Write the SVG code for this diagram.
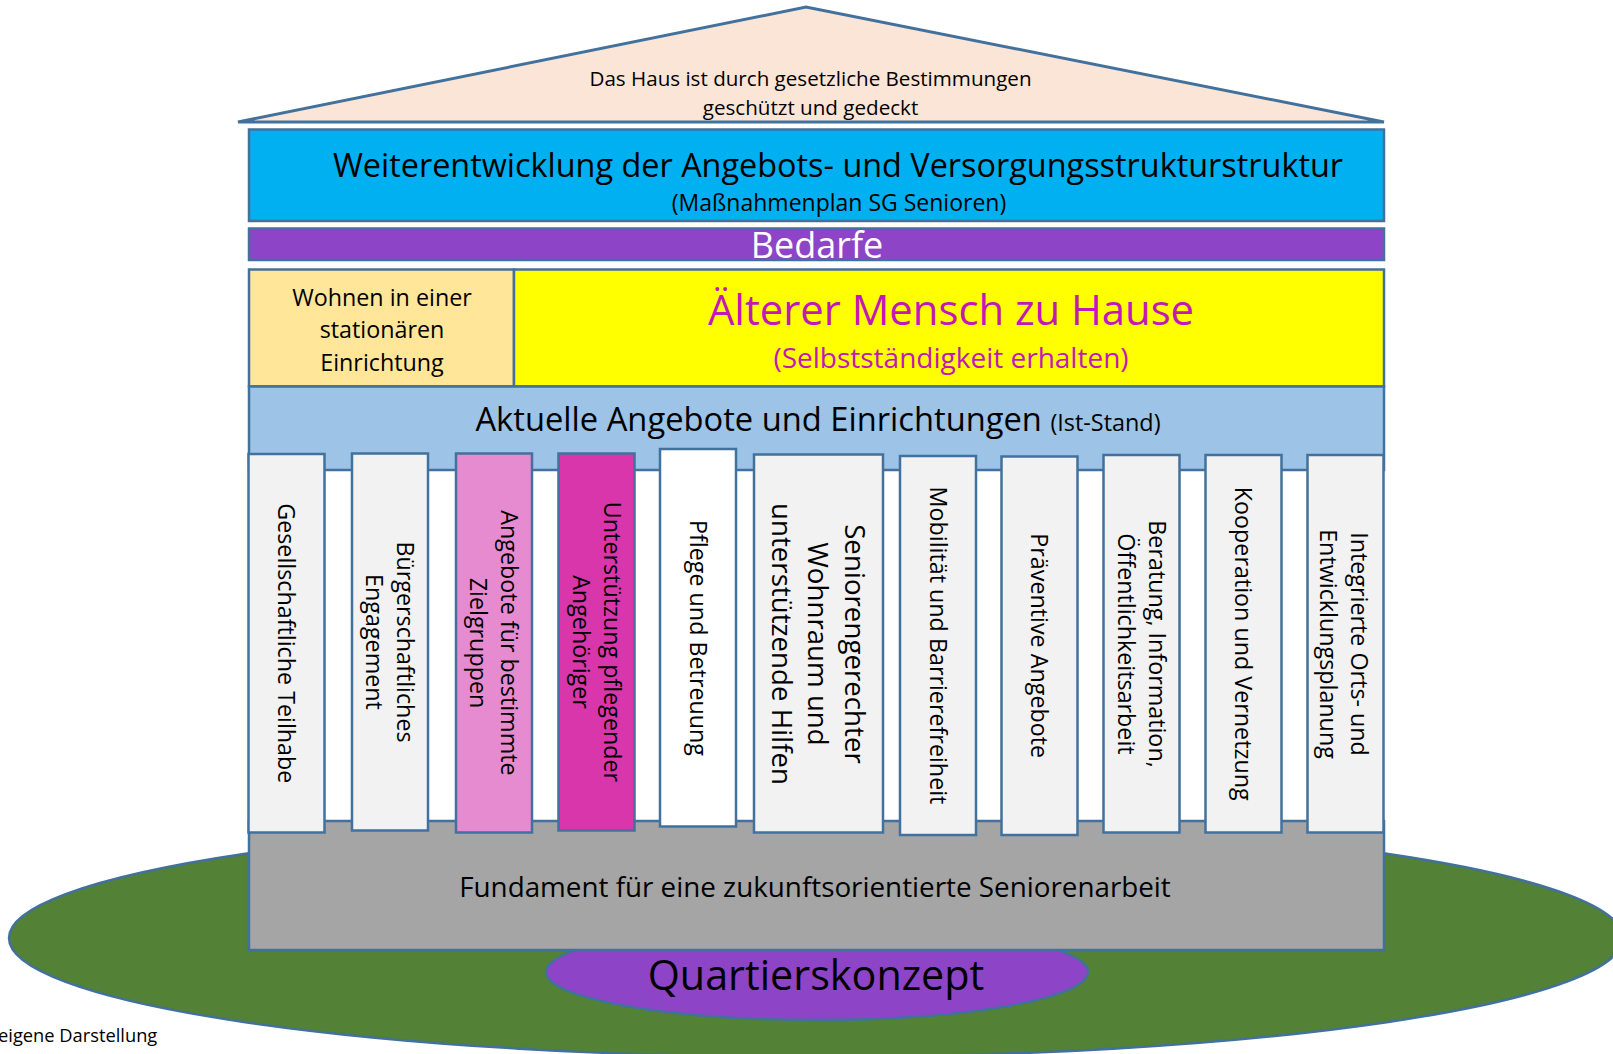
<svg xmlns="http://www.w3.org/2000/svg" width="1613" height="1054" viewBox="0 0 1613 1054">
<style>
  .ln { stroke: #41719C; stroke-width: 2.5; }
  text { font-family: 'Open Sans', 'Noto Sans', sans-serif; fill: #000; }
  .c { text-anchor: middle; }
  .col { fill: #F2F2F2; stroke: #41719C; stroke-width: 2.5; }
  .ct { font-size: 23.3px; text-anchor: middle; }
  .ct6 { font-size: 27.7px; text-anchor: middle; }
</style>
<rect x="0" y="0" width="1613" height="1054" fill="#FFFFFF"/>
<g id="ground">
  <ellipse cx="816" cy="938" rx="807" ry="119" fill="#538135" class="ln"/>
</g>
<g id="quartier">
  <ellipse cx="817" cy="972" rx="271" ry="48" fill="#8E44C6" class="ln"/>
</g>
<g id="body">
  <rect x="249" y="470" width="1135" height="352" fill="#FFFFFF"/>
</g>
<g id="fundament">
  <rect x="249" y="821" width="1135" height="129" fill="#A5A5A5" class="ln"/>
  <text x="815" y="897" class="c" font-size="27.8">Fundament für eine zukunftsorientierte Seniorenarbeit</text>
</g>
<g id="quartier-label">
  <text x="816" y="990" class="c" font-size="41.3">Quartierskonzept</text>
</g>
<g id="roof">
  <polygon points="238,122 806,7 1384,122" fill="#FBE5D6" stroke="#41719C" stroke-width="3" stroke-linejoin="miter"/>
  <text x="810.5" y="86" class="c" font-size="20.6">Das Haus ist durch gesetzliche Bestimmungen</text>
  <text x="810.5" y="115" class="c" font-size="20.6">geschützt und gedeckt</text>
</g>
<g id="weiterentwicklung">
  <rect x="249" y="129.5" width="1135" height="91.5" fill="#00B0F0" class="ln"/>
  <text x="838" y="177" class="c" font-size="32.4">Weiterentwicklung der Angebots- und Versorgungsstrukturstruktur</text>
  <text x="839" y="211" class="c" font-size="23">(Maßnahmenplan SG Senioren)</text>
</g>
<g id="bedarfe">
  <rect x="249" y="228.5" width="1135" height="31.5" fill="#8E44C6" class="ln"/>
  <text x="817" y="258" class="c" font-size="36" style="fill:#FFFFFF">Bedarfe</text>
</g>
<g id="wohnen">
  <rect x="249" y="269.5" width="265" height="117" fill="#FFE699" class="ln"/>
  <text x="382" y="305.5" class="c" font-size="23.3">Wohnen in einer</text>
  <text x="382" y="338" class="c" font-size="23.3">stationären</text>
  <text x="382" y="370.5" class="c" font-size="23.3">Einrichtung</text>
</g>
<g id="zuhause">
  <rect x="514" y="269.5" width="870" height="117" fill="#FFFF00" class="ln"/>
  <text x="951" y="325" class="c" font-size="41.8" style="fill:#C218B8">Älterer Mensch zu Hause</text>
  <text x="951" y="368" class="c" font-size="28" style="fill:#C218B8">(Selbstständigkeit erhalten)</text>
</g>
<g id="aktuell">
  <rect x="249" y="386.5" width="1135" height="83.5" fill="#9DC3E6" class="ln"/>
  <text x="818" y="431" class="c"><tspan font-size="32.7">Aktuelle Angebote und Einrichtungen </tspan><tspan font-size="23.4">(Ist-Stand)</tspan></text>
</g>
<g id="col1">
  <rect x="248.5" y="454" width="76" height="378.5" class="col"/>
  <g transform="translate(286.5,643.3) rotate(90)"><text class="ct" x="0" y="8.4">Gesellschaftliche Teilhabe</text></g>
</g>
<g id="col2">
  <rect x="352" y="453.5" width="76" height="377" class="col"/>
  <g transform="translate(390,642) rotate(90)"><text class="ct" x="0" y="-7">Bürgerschaftliches</text><text class="ct" x="0" y="24">Engagement</text></g>
</g>
<g id="col3">
  <rect x="456" y="453.5" width="76" height="379" class="col" style="fill:#E68BCF"/>
  <g transform="translate(494,643) rotate(90)"><text class="ct" x="0" y="-7">Angebote für bestimmte</text><text class="ct" x="0" y="24">Zielgruppen</text></g>
</g>
<g id="col4">
  <rect x="558.5" y="453.5" width="76" height="377" class="col" style="fill:#D936AB"/>
  <g transform="translate(596.5,642) rotate(90)"><text class="ct" x="0" y="-7">Unterstützung pflegender</text><text class="ct" x="0" y="24">Angehöriger</text></g>
</g>
<g id="col5">
  <rect x="660" y="449" width="76" height="377.5" class="col" style="fill:#FFFFFF"/>
  <g transform="translate(698,638) rotate(90)"><text class="ct" x="0" y="8.4">Pflege und Betreuung</text></g>
</g>
<g id="col6">
  <rect x="754" y="454.5" width="129" height="378" class="col"/>
  <g transform="translate(818.5,644) rotate(90)"><text class="ct6" x="0" y="-26">Seniorengerechter</text><text class="ct6" x="0" y="10.5">Wohnraum und</text><text class="ct6" x="0" y="47">unterstützende Hilfen</text></g>
</g>
<g id="col7">
  <rect x="900" y="456" width="76" height="379" class="col"/>
  <g transform="translate(938,645.5) rotate(90)"><text class="ct" x="0" y="8.4">Mobilität und Barrierefreiheit</text></g>
</g>
<g id="col8">
  <rect x="1001.5" y="456.5" width="76" height="378.5" class="col"/>
  <g transform="translate(1039.5,645.7) rotate(90)"><text class="ct" x="0" y="8.4">Präventive Angebote</text></g>
</g>
<g id="col9">
  <rect x="1103.5" y="455" width="76" height="377.5" class="col"/>
  <g transform="translate(1141.5,644) rotate(90)"><text class="ct" x="0" y="-7">Beratung, Information,</text><text class="ct" x="0" y="24">Öffentlichkeitsarbeit</text></g>
</g>
<g id="col10">
  <rect x="1205.5" y="455" width="76" height="377.5" class="col"/>
  <g transform="translate(1243.5,643.7) rotate(90)"><text class="ct" x="0" y="8.4">Kooperation und Vernetzung</text></g>
</g>
<g id="col11">
  <rect x="1307.5" y="455" width="76" height="377.5" class="col"/>
  <g transform="translate(1344,644) rotate(90)"><text class="ct" x="0" y="-7">Integrierte Orts- und</text><text class="ct" x="0" y="24">Entwicklungsplanung</text></g>
</g>
<g id="caption">
  <text x="-2" y="1042" font-size="18.3">eigene Darstellung</text>
</g>
<g id="connectors"></g>
</svg>
